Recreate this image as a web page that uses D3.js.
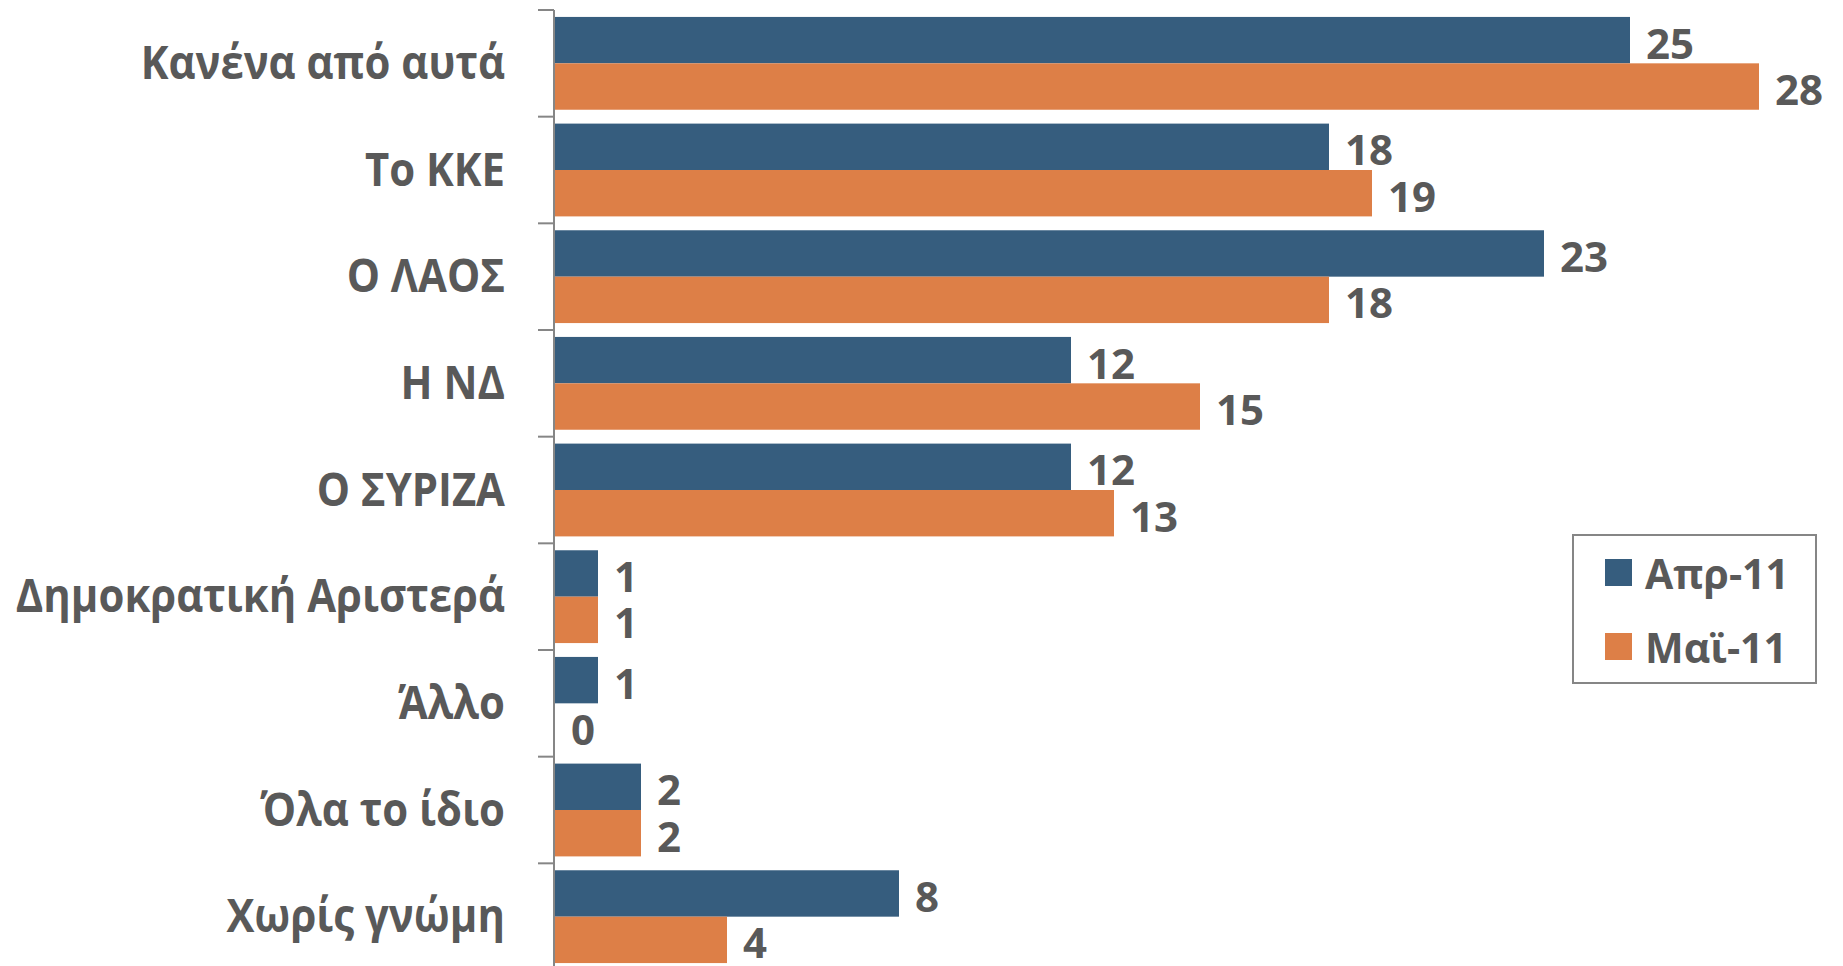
<!DOCTYPE html>
<html>
<head>
<meta charset="utf-8">
<script src="https://cdn.jsdelivr.net/npm/d3@7"></script>
<style>
  body { margin: 0; background: #fff; }
  text { font-family: "Open Sans", sans-serif; font-weight: 700; fill: #595959; }
</style>
</head>
<body>
<div id="chart"></div>
<script>
const categories = ["Κανένα από αυτά", "Το ΚΚΕ", "Ο ΛΑΟΣ", "Η ΝΔ", "Ο ΣΥΡΙΖΑ",
  "Δημοκρατική Αριστερά", "Άλλο", "Όλα το ίδιο", "Χωρίς γνώμη"];
const seriesNames = ["Απρ-11", "Μαϊ-11"];
const apr11 = [25, 18, 23, 12, 12, 1, 1, 2, 8];
const mai11 = [28, 19, 18, 15, 13, 1, 0, 2, 4];
const colors = ["#365d7e", "#dd7f47"];

const width = 1843, height = 966;
const x0 = 555;

const svg = d3.select("#chart").append("svg")
  .attr("width", width)
  .attr("height", height);

const xScale = d3.scaleLinear().domain([0, 28]).range([x0, 1759]);
const yScale = d3.scaleBand().domain(categories).range([10, 970])
  .paddingInner(0.13).paddingOuter(0.065);
const subScale = d3.scaleBand().domain(seriesNames).range([0, yScale.bandwidth()]);

const rows = categories.map((c, i) => ({ name: c, values: [apr11[i], mai11[i]] }));

const group = svg.selectAll(".cat")
  .data(rows)
  .enter().append("g")
  .attr("class", "cat")
  .attr("transform", d => `translate(0,${yScale(d.name)})`);

group.selectAll("rect")
  .data(d => d.values.map((v, j) => ({ series: seriesNames[j], value: v, j: j })))
  .enter().append("rect")
  .attr("x", x0)
  .attr("y", d => subScale(d.series))
  .attr("width", d => xScale(d.value) - x0)
  .attr("height", subScale.bandwidth())
  .attr("fill", d => colors[d.j]);

group.selectAll(".val")
  .data(d => d.values.map((v, j) => ({ series: seriesNames[j], value: v })))
  .enter().append("text")
  .attr("class", "val")
  .attr("x", d => xScale(d.value) + 16)
  .attr("y", d => subScale(d.series) + subScale.bandwidth() / 2 + 2)
  .attr("dominant-baseline", "central")
  .style("font-size", "42px")
  .text(d => d.value);

// category axis on the left, ticks between categories
const step = yScale.step();
const axisTop = yScale.range()[0];
svg.append("line")
  .attr("x1", x0 - 1).attr("x2", x0 - 1)
  .attr("y1", axisTop).attr("y2", yScale.range()[1])
  .attr("stroke", "#868686").attr("stroke-width", 2);

svg.selectAll(".tick")
  .data(d3.range(categories.length + 1))
  .enter().append("line")
  .attr("class", "tick")
  .attr("x1", x0 - 17).attr("x2", x0 - 1)
  .attr("y1", i => axisTop + i * step).attr("y2", i => axisTop + i * step)
  .attr("stroke", "#868686").attr("stroke-width", 2);

// the original font is narrower than Open Sans, so squeeze labels a little
svg.selectAll(".cat-label")
  .data(categories)
  .enter().append("text")
  .attr("class", "cat-label")
  .attr("transform", d => `translate(505,${yScale(d) + yScale.bandwidth() / 2 - 2}) scale(0.91,1)`)
  .attr("text-anchor", "end")
  .attr("dominant-baseline", "central")
  .style("font-size", "46px")
  .text(d => d);

// legend
const legend = svg.append("g").attr("transform", "translate(1573,535)");
legend.append("rect")
  .attr("width", 243).attr("height", 148)
  .attr("fill", "#fff").attr("stroke", "#868686").attr("stroke-width", 2);

const item = legend.selectAll(".item")
  .data(seriesNames)
  .enter().append("g")
  .attr("class", "item")
  .attr("transform", (d, i) => `translate(32,${24 + i * 74})`);

item.append("rect")
  .attr("width", 27).attr("height", 27)
  .attr("fill", (d, i) => colors[i]);

item.append("text")
  .attr("x", 40)
  .attr("y", 14)
  .attr("dominant-baseline", "central")
  .style("font-size", "41px")
  .text(d => d);
</script>
</body>
</html>
